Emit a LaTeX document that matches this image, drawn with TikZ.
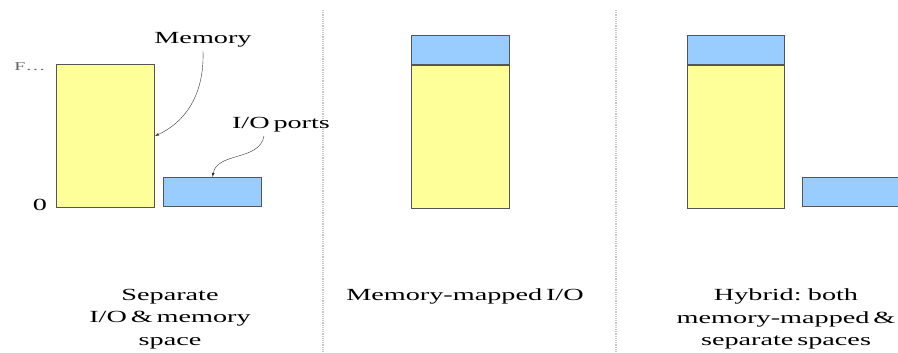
\documentclass[tikz,border=0pt]{standalone}
\usepackage{fontspec}
\setmainfont{Liberation Serif}
\newfontfamily\capfont[FakeStretch=1.66,WordSpace=0.55]{Liberation Serif}
\usetikzlibrary{arrows.meta,positioning}

\definecolor{memyellow}{HTML}{FFFF99}
\definecolor{ioblue}{HTML}{99CCFF}
\definecolor{boxline}{HTML}{555555}

\begin{document}
\begin{tikzpicture}[x=1pt,y=-1pt,>=latex,
   font=\capfont\fontsize{17}{22.5}\selectfont,
   blk/.style={draw=boxline,line width=1pt,inner sep=0pt,minimum width=98pt},
   mem/.style={blk,fill=memyellow,minimum height=143pt},
   iob/.style={blk,fill=ioblue,minimum height=29pt},
   lab/.style={align=center,inner sep=1pt},
   sep/.style={densely dotted,gray!45,line width=1.2pt}]
  \useasboundingbox (0,0) rectangle (898,353);
  \clip (0,0) rectangle (898,353);
  % separators
  \draw[sep] (323,10) -- (323,353);
  \draw[sep] (616,10) -- (616,353);
  % separate spaces
  \node[mem,anchor=north west] (mem1) at (56,64) {};
  \node[iob,anchor=south west] (io1) at (163,207) {};
  \node[anchor=east,text=black!60,font=\capfont\fontsize{12}{14}\selectfont] (ftop) at (49,67) {F\ldots};
  \node (zero) at (40,205) {0};
  \node (memlab) at (203,40) {Memory};
  \node (iolab) at (281,125) {I/O ports};
  \draw[->,black!80] (memlab.south) to[out=-88,in=25] (mem1.east);
  \draw[->,black!80] ([xshift=-17pt]iolab.south) to[out=-100,in=80] (io1.north);
  % memory-mapped
  \node[iob,anchor=north west] (io2) at (411,35) {};
  \node[mem,below=0pt of io2] (mem2) {};
  % hybrid
  \node[iob,anchor=north west,minimum width=97pt] (io3) at (687,35) {};
  \node[mem,below=0pt of io3,minimum width=97pt] (mem3) {};
  \node[iob,anchor=south west] (io4) at (802,207) {};
  % captions
  \node[lab] (seplab) at (170,319) {Separate\\I/O \& memory\\space};
  \node[lab] (mmlab) at (465,296) {Memory-mapped I/O};
  \node[lab] (hyblab) at (786,319) {Hybrid: both\\memory-mapped \&\\separate spaces};
\end{tikzpicture}
\end{document}
